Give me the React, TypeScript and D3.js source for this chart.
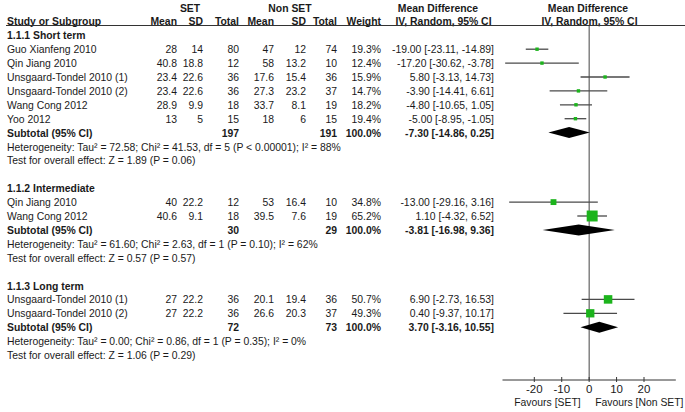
import React, { useRef, useEffect } from "react";
import * as d3 from "d3";

// study rows (in display order)
const studies = [
  "Guo Xianfeng 2010",
  "Qin Jiang 2010",
  "Unsgaard-Tondel 2010 (1)",
  "Unsgaard-Tondel 2010 (2)",
  "Wang Cong 2012",
  "Yoo 2012",
  "Qin Jiang 2010",
  "Wang Cong 2012",
  "Unsgaard-Tondel 2010 (1)",
  "Unsgaard-Tondel 2010 (2)",
];
const studyGroup = [0, 0, 0, 0, 0, 0, 1, 1, 2, 2];
const setMean = [28, 40.8, 23.4, 23.4, 28.9, 13, 40, 40.6, 27, 27];
const setSD = [14, 18.8, 22.6, 22.6, 9.9, 5, 22.2, 9.1, 22.2, 22.2];
const setTotal = [80, 12, 36, 36, 18, 15, 12, 18, 36, 36];
const nonMean = [47, 58, 17.6, 27.3, 33.7, 18, 53, 39.5, 20.1, 26.6];
const nonSD = [12, 13.2, 15.4, 23.2, 8.1, 6, 16.4, 7.6, 19.4, 20.3];
const nonTotal = [74, 10, 36, 37, 19, 15, 10, 19, 36, 37];
const weights = [19.3, 12.4, 15.9, 14.7, 18.2, 19.4, 34.8, 65.2, 50.7, 49.3];
const md = [-19.0, -17.2, 5.8, -3.9, -4.8, -5.0, -13.0, 1.1, 6.9, 0.4];
const ciLow = [-23.11, -30.62, -3.13, -14.41, -10.65, -8.95, -29.16, -4.32, -2.73, -9.37];
const ciHigh = [-14.89, -3.78, 14.73, 6.61, 1.05, -1.05, 3.16, 6.52, 16.53, 10.17];

// subgroups
const groupNames = ["1.1.1 Short term", "1.1.2 Intermediate", "1.1.3 Long term"];
const subSetTotal = [197, 30, 72];
const subNonTotal = [191, 29, 73];
const subMd = [-7.3, -3.81, 3.7];
const subLow = [-14.86, -16.98, -3.16];
const subHigh = [0.25, 9.36, 10.55];
const heterogeneity = [
  "Heterogeneity: Tau² = 72.58; Chi² = 41.53, df = 5 (P < 0.00001); I² = 88%",
  "Heterogeneity: Tau² = 61.60; Chi² = 2.63, df = 1 (P = 0.10); I² = 62%",
  "Heterogeneity: Tau² = 0.00; Chi² = 0.86, df = 1 (P = 0.35); I² = 0%",
];
const overallEffect = [
  "Test for overall effect: Z = 1.89 (P = 0.06)",
  "Test for overall effect: Z = 0.57 (P = 0.57)",
  "Test for overall effect: Z = 1.06 (P = 0.29)",
];

const axisTicks = [-20, -10, 0, 10, 20];
const axisExtent = [-31.6, 31.6];

const App = () => {
  const svgRef = useRef(null);
  const width = 685;
  const height = 412;

  useEffect(() => {
    const svg = d3.select(svgRef.current);
    svg.selectAll("*").remove();

    const font = "'Liberation Sans', Arial, sans-serif";
    const fs = 10.4;
    const ink = "#1a1a1a";

    const x = d3.scaleLinear().domain([-20, 20]).range([534.3, 644]);
    const rowY = (i) => 35.3 + i * 13.9;
    const axisY = 380;

    const text = (tx, ty, s, anchor = "start", bold = false, size = fs) =>
      svg
        .append("text")
        .attr("x", tx)
        .attr("y", ty)
        .attr("text-anchor", anchor)
        .style("font-family", font)
        .style("font-size", `${size}px`)
        .style("font-weight", bold ? "bold" : "normal")
        .style("fill", ink)
        .text(s);

    // plain hyphen minus, like the original
    const f2 = (v) => v.toFixed(2);
    const ci = (m, l, h) => `${f2(m)} [${f2(l)}, ${f2(h)}]`;

    // column right edges
    const col = { setMean: 177, setSD: 203, setTotal: 239, nonMean: 274, nonSD: 306, nonTotal: 337, weight: 381, ci: 494 };

    // header
    text(190, 12, "SET", "middle", true);
    text(290, 12, "Non SET", "middle", true);
    text(438, 12, "Mean Difference", "middle", true);
    text(588, 12, "Mean Difference", "middle", true);
    const hy = 24.5;
    text(7, hy, "Study or Subgroup", "start", true);
    text(col.setMean, hy, "Mean", "end", true);
    text(col.setSD, hy, "SD", "end", true);
    text(col.setTotal, hy, "Total", "end", true);
    text(col.nonMean, hy, "Mean", "end", true);
    text(col.nonSD, hy, "SD", "end", true);
    text(col.nonTotal, hy, "Total", "end", true);
    text(col.weight, hy, "Weight", "end", true);
    text(443.5, hy, "IV, Random, 95% CI", "middle", true);
    text(589.5, hy, "IV, Random, 95% CI", "middle", true);
    svg
      .append("line")
      .attr("x1", 6)
      .attr("x2", 685)
      .attr("y1", 25.5)
      .attr("y2", 25.5)
      .attr("stroke", "#333")
      .attr("stroke-width", 1);

    // zero line
    svg
      .append("line")
      .attr("x1", x(0))
      .attr("x2", x(0))
      .attr("y1", 26)
      .attr("y2", axisY)
      .attr("stroke", "#444")
      .attr("stroke-width", 1);

    let row = 0;
    groupNames.forEach((g, gi) => {
      text(7, rowY(row) + 4, g, "start", true);
      row += 1;
      studies.forEach((s, i) => {
        if (studyGroup[i] !== gi) return;
        const y = rowY(row);
        const by = y + 4;
        text(7, by, s);
        text(col.setMean, by, setMean[i], "end");
        text(col.setSD, by, setSD[i], "end");
        text(col.setTotal, by, setTotal[i], "end");
        text(col.nonMean, by, nonMean[i], "end");
        text(col.nonSD, by, nonSD[i], "end");
        text(col.nonTotal, by, nonTotal[i], "end");
        text(col.weight, by, `${weights[i].toFixed(1)}%`, "end");
        text(col.ci, by, ci(md[i], ciLow[i], ciHigh[i]), "end");

        svg
          .append("line")
          .attr("x1", x(ciLow[i]))
          .attr("x2", x(ciHigh[i]))
          .attr("y1", y)
          .attr("y2", y)
          .attr("stroke", "#4a4a4a")
          .attr("stroke-width", 1.3);
        const side = Math.max(3.4, weights[i] * 0.168);
        svg
          .append("rect")
          .attr("x", x(md[i]) - side / 2)
          .attr("y", y - side / 2)
          .attr("width", side)
          .attr("height", side)
          .attr("fill", "#1cb41c");
        row += 1;
      });

      // subtotal
      const y = rowY(row);
      const by = y + 4;
      text(7, by, "Subtotal (95% CI)", "start", true);
      text(col.setTotal, by, subSetTotal[gi], "end", true);
      text(col.nonTotal, by, subNonTotal[gi], "end", true);
      text(col.weight, by, "100.0%", "end", true);
      text(col.ci, by, ci(subMd[gi], subLow[gi], subHigh[gi]), "end", true);
      const dh = 5.5;
      svg
        .append("path")
        .attr(
          "d",
          d3.line()([
            [x(subLow[gi]), y],
            [x(subMd[gi]), y - dh],
            [x(subHigh[gi]), y],
            [x(subMd[gi]), y + dh],
          ]) + "Z"
        )
        .attr("fill", "#000");
      row += 1;
      text(7, rowY(row) + 4, heterogeneity[gi]);
      row += 1;
      text(7, rowY(row) + 4, overallEffect[gi]);
      row += 2;
    });

    // axis
    svg
      .append("line")
      .attr("x1", x(axisExtent[0]))
      .attr("x2", x(axisExtent[1]))
      .attr("y1", axisY)
      .attr("y2", axisY)
      .attr("stroke", "#333")
      .attr("stroke-width", 1);
    axisTicks.forEach((t) => {
      svg
        .append("line")
        .attr("x1", x(t))
        .attr("x2", x(t))
        .attr("y1", axisY - 3)
        .attr("y2", axisY + 2)
        .attr("stroke", "#333")
        .attr("stroke-width", 1);
      text(x(t), axisY + 12.5, String(t), "middle", false, 11.5);
    });
    text(x(0) - 8.5, axisY + 26, "Favours [SET]", "end");
    text(x(0) + 6, axisY + 26, "Favours [Non SET]", "start");
  }, []);

  return (
    <svg
      ref={svgRef}
      width={width}
      height={height}
      style={{ position: "absolute", left: 0, top: 0, background: "#fff" }}
    ></svg>
  );
};

export default App;
